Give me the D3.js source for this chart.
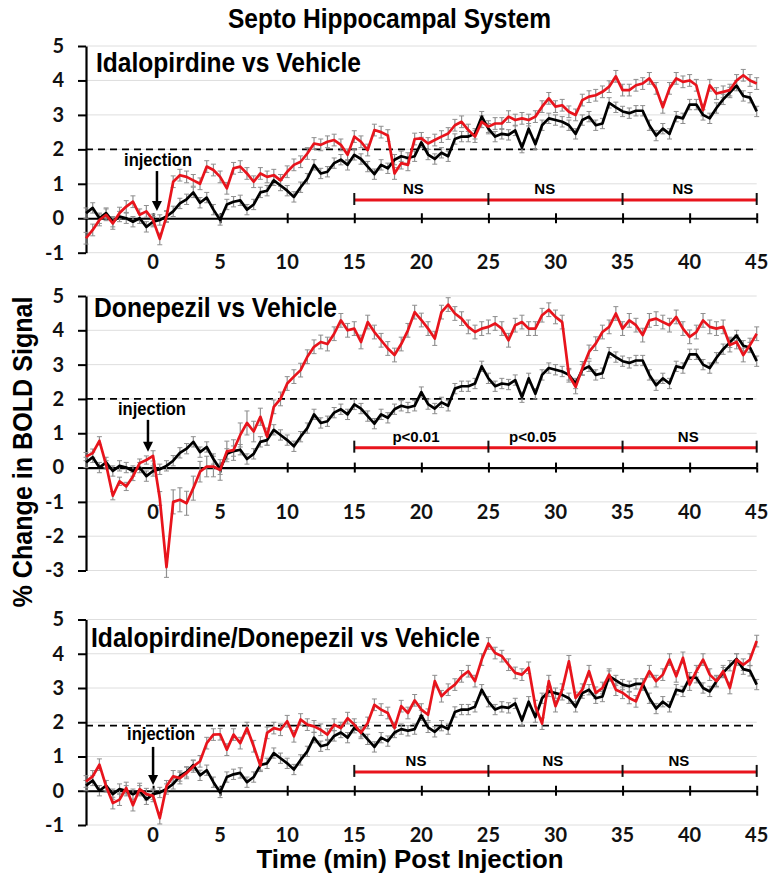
<!DOCTYPE html>
<html><head><meta charset="utf-8">
<script src="https://cdn.jsdelivr.net/npm/d3@7"></script>
<style>body{margin:0;background:#fff}</style>
</head><body>
<svg id="c" width="773" height="881"></svg>
<script>
// ---- DATA (0.5-min samples) ----
const times = [-5,-4.5,-4,-3.5,-3,-2.5,-2,-1.5,-1,-0.5,
  0,0.5,1,1.5,2,2.5,3,3.5,4,4.5, 5,5.5,6,6.5,7,7.5,8,8.5,9,9.5,
  10,10.5,11,11.5,12,12.5,13,13.5,14,14.5, 15,15.5,16,16.5,17,17.5,18,18.5,19,19.5,
  20,20.5,21,21.5,22,22.5,23,23.5,24,24.5, 25,25.5,26,26.5,27,27.5,28,28.5,29,29.5,
  30,30.5,31,31.5,32,32.5,33,33.5,34,34.5, 35,35.5,36,36.5,37,37.5,38,38.5,39,39.5,
  40,40.5,41,41.5,42,42.5,43,43.5,44,44.5, 45];

const vehicle = [0.15,0.3,0.0,0.15,-0.1,0.05,0.0,-0.1,0.0,-0.25,
  -0.1,-0.05,0.05,0.2,0.43,0.55,0.75,0.45,0.6,0.25,
  -0.05,0.4,0.48,0.52,0.25,0.4,0.75,0.8,1.1,0.95,
  0.8,0.62,0.9,1.15,1.55,1.3,1.35,1.6,1.7,1.55,
  1.84,1.72,1.5,1.28,1.55,1.45,1.7,1.8,1.75,1.8,
  2.2,1.85,1.72,1.9,1.8,2.3,2.37,2.37,2.45,2.95,
  2.6,2.37,2.45,2.42,2.55,2.05,2.6,2.15,2.7,2.9,
  2.85,2.8,2.7,2.45,2.85,2.95,2.7,2.75,3.35,3.22,
  3.1,3.05,3.12,3.12,2.7,2.4,2.6,2.45,2.95,2.9,
  3.3,3.3,3.0,2.9,3.2,3.45,3.65,3.85,3.55,3.5,
  3.1];

const idalopirdine = [-0.58,-0.34,-0.05,0.1,-0.15,0.15,0.34,0.48,0.1,0.2,
  -0.05,-0.6,0.05,1.06,1.25,1.2,1.1,1.0,1.5,1.4,
  1.2,0.87,1.45,1.5,1.3,1.06,1.3,1.2,1.25,1.1,
  1.35,1.55,1.64,1.88,2.17,2.13,2.22,2.27,2.13,1.84,
  2.37,2.22,1.98,2.56,2.5,2.4,1.3,1.6,1.55,2.3,
  2.32,2.17,2.27,2.37,2.46,2.7,2.8,2.56,2.37,2.8,
  2.66,2.75,2.75,2.95,2.85,2.9,2.85,2.95,3.24,3.48,
  3.24,3.28,3.09,3.0,3.43,3.53,3.57,3.67,3.82,4.12,
  3.72,3.72,3.86,3.91,4.06,3.77,3.22,3.77,4.06,3.96,
  4.0,3.86,3.14,3.86,3.62,3.67,3.72,4.0,4.15,4.0,
  3.91];

const donepezil = [0.32,0.42,0.78,0.08,-0.82,-0.4,-0.55,-0.26,0.13,0.22,
  0.34,-0.9,-2.9,-1.0,-0.94,-1.04,-0.6,-0.12,0.03,0.03,
  -0.07,0.47,0.51,0.95,1.3,1.05,1.48,0.9,1.77,2.0,
  2.45,2.65,2.84,3.23,3.52,3.66,3.6,3.9,4.29,4.0,
  4.05,3.66,4.24,3.95,3.71,3.47,3.28,3.6,4.0,4.53,
  4.3,4.05,3.76,4.53,4.75,4.49,4.34,4.1,3.95,4.05,
  4.1,4.2,4.05,3.71,4.15,4.24,4.05,4.05,4.44,4.6,
  4.39,4.24,2.69,2.35,2.89,3.37,3.61,3.95,4.1,4.49,
  4.05,4.29,4.15,3.86,4.29,4.34,4.24,4.15,4.39,4.05,
  3.81,3.95,4.29,4.1,4.05,4.1,3.57,3.66,3.28,3.57,
  3.9];

const combination = [0.27,0.42,0.76,0.13,-0.36,-0.26,0.08,-0.42,0.05,-0.1,
  -0.15,-0.8,0.13,0.42,0.37,0.52,0.71,0.86,1.39,1.64,
  1.65,1.2,1.64,1.39,1.83,1.3,0.73,1.69,1.83,1.78,
  2.03,1.59,2.08,1.93,1.88,1.78,1.64,1.93,1.83,2.12,
  1.93,1.69,1.98,2.51,2.37,2.27,1.83,2.47,2.27,2.64,
  2.37,2.22,3.2,2.76,2.95,3.1,3.34,3.49,3.2,3.83,
  4.3,4.02,3.93,3.68,3.44,3.39,3.59,2.47,1.96,3.2,
  2.47,2.95,3.78,2.71,2.95,3.49,2.86,3.0,3.39,2.95,
  2.86,2.71,2.61,3.1,3.49,3.2,3.39,3.83,3.34,3.88,
  3.1,3.49,3.83,3.39,3.2,3.49,3.0,3.83,3.68,3.83,
  4.37];

// error bar half-lengths (SEM)
const semVehicle = 0.15;
const semIdalopirdine = 0.17;
const semCombination = 0.17;
const semDonepezil = [0.12,0.12,0.12,0.12,0.12,0.12,0.12,0.12,0.12,0.12,
  0.15,0.2,0.3,0.35,0.35,0.35,0.35,0.3,0.3,0.3,
  0.3,0.3,0.3,0.35,0.35,0.3,0.25,0.25,0.2,0.2,
  0.2,0.2,0.2,0.2,0.2,0.2,0.2,0.2,0.2,0.2,
  0.2,0.2,0.2,0.2,0.2,0.2,0.2,0.2,0.2,0.2,
  0.2,0.2,0.2,0.2,0.2,0.2,0.2,0.2,0.2,0.2,
  0.2,0.2,0.2,0.2,0.2,0.2,0.2,0.2,0.2,0.2,
  0.2,0.2,0.2,0.2,0.2,0.2,0.2,0.2,0.2,0.2,
  0.2,0.2,0.2,0.2,0.2,0.2,0.2,0.2,0.2,0.2,
  0.2,0.2,0.2,0.2,0.2,0.2,0.2,0.2,0.2,0.2,
  0.2];

const xTickValues = [0,5,10,15,20,25,30,35,40,45];
const sigBreaks = [15,25,35,45];
const panelTitles = ["Idalopirdine vs Vehicle","Donepezil vs Vehicle","Idalopirdine/Donepezil vs Vehicle"];
const sigLabels = [["NS","NS","NS"],["p<0.01","p<0.05","NS"],["NS","NS","NS"]];
const mainTitle = "Septo Hippocampal System";
const yTitle = "% Change in BOLD Signal";
const xTitle = "Time (min) Post Injection";

// ---- LAYOUT ----
const RED = "#e8141c", GRAY = "#8f8f8f";
const ARIAL = "'Liberation Sans', Arial, sans-serif";
const TICKF = "Lato, 'Open Sans', sans-serif";
const svg = d3.select("#c");
const x = d3.scaleLinear().domain([-5,45]).range([86,756.7]);

const panels = [
  {drug:idalopirdine, sem:semIdalopirdine, yDom:[-1,5], yR:[252.7,46], ref:2, sig:0.53,
   labY:262, tX:96, tY:72, tW:265, sigX:[19.4,29.2,39.5],
   inj:{tx:0.37,ty:1.52,ax:0.29,a0:1.37,a1:0.21}},
  {drug:donepezil, sem:semDonepezil, yDom:[-3,5], yR:[570.5,296], ref:2, sig:0.58,
   labY:512, tX:94, tY:317, tW:243, sigX:[19.6,28.3,39.9],
   inj:{tx:-0.08,ty:1.54,ax:-0.38,a0:1.39,a1:0.46}},
  {drug:combination, sem:semCombination, yDom:[-1,5], yR:[825,619.5], ref:1.9, sig:0.55,
   labY:835, tX:91, tY:647, tW:389, sigX:[19.6,29.8,39.2],
   inj:{tx:0.6,ty:1.48,ax:0.0,a0:1.28,a1:0.17}}
];

svg.append("text").attr("x",389.5).attr("y",28).attr("text-anchor","middle")
  .attr("font-family",ARIAL).attr("font-weight","bold").attr("font-size",28)
  .attr("textLength",323).attr("lengthAdjust","spacingAndGlyphs").text(mainTitle);

svg.append("text").attr("transform","translate(32,452) rotate(-90)")
  .attr("text-anchor","middle").attr("font-family",ARIAL).attr("font-weight","bold")
  .attr("font-size",28).attr("textLength",311).attr("lengthAdjust","spacingAndGlyphs").text(yTitle);

svg.append("text").attr("x",410).attr("y",868).attr("text-anchor","middle")
  .attr("font-family",ARIAL).attr("font-weight","bold").attr("font-size",26)
  .attr("textLength",307).attr("lengthAdjust","spacingAndGlyphs").text(xTitle);

const semAt = (s,i) => (typeof s === "number") ? s : s[i];

panels.forEach((p,pi) => {
  const y = d3.scaleLinear().domain(p.yDom).range(p.yR);
  const g = svg.append("g");
  const grid = d3.range(p.yDom[0], p.yDom[1]+1);
  g.selectAll(".grid").data(grid).join("line")
    .attr("x1",x(-5)).attr("x2",x(45)).attr("y1",d=>y(d)).attr("y2",d=>y(d))
    .attr("stroke","#dedede").attr("stroke-width",1);
  g.append("line").attr("x1",x(-5)).attr("x2",x(45)).attr("y1",y(p.ref)).attr("y2",y(p.ref))
    .attr("stroke","#000").attr("stroke-width",1.8).attr("stroke-dasharray","7,5");
  const ya = g.append("g").attr("transform",`translate(${x(-5)},0)`)
    .call(d3.axisLeft(y).tickValues(grid).tickSize(8).tickSizeOuter(0).tickPadding(14).tickFormat(d=>String(d)));
  ya.select(".domain").attr("stroke-width",2.2);
  ya.selectAll(".tick line").attr("stroke-width",2);
  ya.selectAll("text").attr("font-family",TICKF).attr("font-weight","bold").attr("font-size",20).attr("fill","#111");
  const xb = g.append("g").attr("transform",`translate(0,${y(0)})`)
    .call(d3.axisBottom(x).tickValues(xTickValues).tickSize(5).tickSizeOuter(0).tickFormat(""));
  xb.select(".domain").attr("stroke-width",2.2);
  xb.selectAll(".tick line").attr("stroke-width",2);
  const xt = g.append("g").attr("transform",`translate(0,${y(0)})`)
    .call(d3.axisTop(x).tickValues(xTickValues).tickSize(5).tickSizeOuter(0).tickFormat(""));
  xt.select(".domain").remove();
  xt.selectAll(".tick line").attr("stroke-width",2);
  g.selectAll(".xl").data(xTickValues).join("text")
    .attr("x",d=>x(d)).attr("y",p.labY).attr("dy","0.36em").attr("text-anchor","middle")
    .attr("font-family",TICKF).attr("font-weight","bold").attr("font-size",20).attr("fill","#111")
    .text(d=>d);
  g.append("line").attr("x1",x(15)).attr("x2",x(45)).attr("y1",y(p.sig)).attr("y2",y(p.sig))
    .attr("stroke",RED).attr("stroke-width",3);
  g.selectAll(".sb").data(sigBreaks).join("line")
    .attr("x1",d=>x(d)).attr("x2",d=>x(d)).attr("y1",y(p.sig)-7).attr("y2",y(p.sig)+5)
    .attr("stroke","#111").attr("stroke-width",2);
  g.selectAll(".sl").data(sigLabels[pi]).join("text")
    .attr("x",(d,i)=>x(p.sigX[i])).attr("y",y(p.sig)-6).attr("text-anchor","middle")
    .attr("font-family",ARIAL).attr("font-weight","bold").attr("font-size",15).text(d=>d);
  g.append("text").attr("x",p.tX).attr("y",p.tY).attr("font-family",ARIAL).attr("font-weight","bold")
    .attr("font-size",27).attr("textLength",p.tW).attr("lengthAdjust","spacingAndGlyphs").text(panelTitles[pi]);
  g.append("text").attr("x",x(p.inj.tx)).attr("y",y(p.inj.ty)).attr("text-anchor","middle")
    .attr("font-family",ARIAL).attr("font-weight","bold").attr("font-size",18)
    .attr("textLength",68).attr("lengthAdjust","spacingAndGlyphs").text("injection");
  const ax = x(p.inj.ax), ay0 = y(p.inj.a0), ay1 = y(p.inj.a1);
  g.append("line").attr("x1",ax).attr("x2",ax).attr("y1",ay0).attr("y2",ay1-8)
    .attr("stroke","#000").attr("stroke-width",2.5);
  g.append("path").attr("d",`M${ax-5},${ay1-10}L${ax+5},${ay1-10}L${ax},${ay1}Z`).attr("fill","#000");

  const series = [
    {vals:vehicle, sem:semVehicle, color:"#000"},
    {vals:p.drug, sem:p.sem, color:RED}
  ];
  series.forEach(s => {
    const eb = g.append("g");
    eb.selectAll("line.v").data(s.vals).join("line")
      .attr("x1",(d,i)=>x(times[i])).attr("x2",(d,i)=>x(times[i]))
      .attr("y1",(d,i)=>y(d-semAt(s.sem,i))).attr("y2",(d,i)=>y(d+semAt(s.sem,i)))
      .attr("stroke",GRAY).attr("stroke-width",1.2);
    ["-","+"].forEach(sign => {
      eb.selectAll("line.c"+(sign==="-"?"m":"p")).data(s.vals).join("line")
        .attr("x1",(d,i)=>x(times[i])-2.5).attr("x2",(d,i)=>x(times[i])+2.5)
        .attr("y1",(d,i)=>y(sign==="-"? d-semAt(s.sem,i) : d+semAt(s.sem,i)))
        .attr("y2",(d,i)=>y(sign==="-"? d-semAt(s.sem,i) : d+semAt(s.sem,i)))
        .attr("stroke",GRAY).attr("stroke-width",1);
    });
  });
  const line = d3.line().x((d,i)=>x(times[i])).y(d=>y(d));
  series.forEach(s => {
    g.append("path").datum(s.vals).attr("d",line).attr("fill","none")
      .attr("stroke",s.color).attr("stroke-width",2.7).attr("stroke-linejoin","round");
  });
});
</script>
</body></html>
